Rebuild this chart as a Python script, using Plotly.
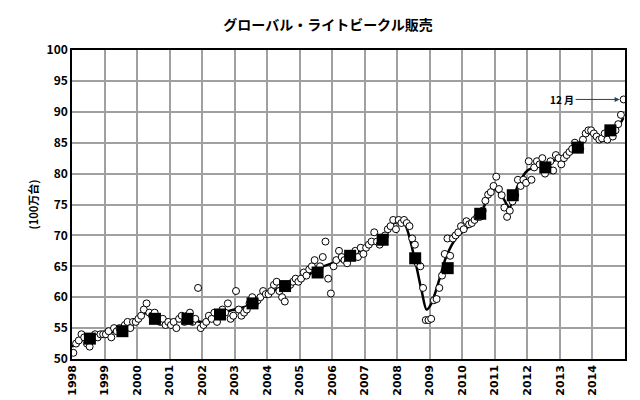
import numpy as np
import plotly.graph_objects as go

years = list(range(1998, 2015))

# monthly sales (million units), Jan..Dec per year
monthly = {
    1998: [51, 52.5, 53, 54, 53.5, 52.5, 52, 53.5, 54, 53.5, 54, 54],
    1999: [54, 54.5, 53.5, 55, 54.5, 55, 54.5, 55.5, 56, 55, 56, 56],
    2000: [56.5, 57, 58, 59, 57.5, 57, 57.5, 56.5, 56, 56.5, 55.5, 56],
    2001: [55.5, 56, 55, 56.5, 57, 56, 57, 57.5, 56, 56.5, 61.5, 55],
    2002: [55.5, 56, 57, 56.5, 57.5, 56, 57, 58, 57.5, 59, 56.5, 57],
    2003: [61, 58, 57, 57.5, 58, 59, 60, 59, 59.5, 60, 61, 60.5],
    2004: [60.5, 61, 62, 62.5, 61, 60, 59.3, 61.5, 62, 62.5, 63, 62.5],
    2005: [63, 64, 63.5, 64.5, 65, 66, 64, 65, 66.5, 69, 63, 60.6],
    2006: [65, 66, 67.5, 66.5, 66, 65.5, 66.5, 67, 67.5, 66.5, 68, 67],
    2007: [68, 68.5, 69, 70.5, 69, 68.5, 69, 70, 71, 71.5, 72.5, 71],
    2008: [72.5, 72, 72.5, 72, 71.5, 69.5, 68.5, 65.5, 65, 61.5, 56.3, 56.3],
    2009: [56.5, 59.5, 59.7, 61.5, 63.5, 67, 69.5, 66.7, 69.5, 70, 70.5, 71.5],
    2010: [71, 72.3, 71.8, 72, 72.5, 73, 73, 74, 75.6, 76.6, 77, 78],
    2011: [79.5, 77.5, 76.5, 74.5, 73, 74, 75.5, 76.5, 79, 78, 79, 78.5],
    2012: [82, 79, 81, 82, 81.5, 82.5, 80, 81, 82, 80.5, 83, 82.5],
    2013: [81.5, 82.5, 83, 83.5, 84, 85, 84.5, 84, 85.5, 86.5, 87, 87],
    2014: [86.5, 86, 85.5, 85.7, 86.5, 85.5, 86.5, 86, 87, 88, 89.5, 92],
}

# annual averages
annual = [53.3, 54.5, 56.5, 56.5, 57.2, 59, 61.8, 64, 66.7, 69.3,
          66.3, 64.7, 73.5, 76.5, 81, 84.2, 87]

# trend line
trend_x = [1998.0, 1998.5, 1999.0, 1999.5, 2000.0, 2000.3, 2000.7, 2001.0, 2001.5, 2002.0,
           2002.5, 2003.0, 2003.5, 2004.0, 2004.5, 2005.0, 2005.5, 2006.0, 2006.5, 2007.0,
           2007.5, 2007.9, 2008.2, 2008.5, 2008.75, 2008.9, 2009.05, 2009.3, 2009.5, 2009.8,
           2010.2, 2010.6, 2010.95, 2011.2, 2011.45, 2011.7, 2012.0, 2012.5, 2013.0, 2013.5,
           2013.9, 2014.3, 2014.7, 2014.95]
trend_y = [52, 53.5, 54, 54.8, 56.5, 57.5, 56.5, 56.2, 56.7, 56,
           57.3, 58, 58.8, 60.5, 61.8, 62.5, 64.5, 65.5, 66.5, 68,
           69.5, 72, 72, 67, 61, 58, 59, 63, 66.5, 69.5,
           71.5, 74, 77.5, 76.5, 74.5, 78, 80.5, 81.5, 82.5, 84.5,
           86.5, 86, 87, 89]

mx, my = [], []
for y in years:
    for m, v in enumerate(monthly[y]):
        mx.append(y + (m + 0.5) / 12)
        my.append(v)

fig = go.Figure()
fig.add_trace(go.Scatter(x=trend_x, y=trend_y, mode='lines',
                         line=dict(color='black', width=2.5, shape='spline', smoothing=0.8)))
fig.add_trace(go.Scatter(x=mx, y=my, mode='markers',
                         marker=dict(symbol='circle', size=7, color='white',
                                     line=dict(color='black', width=1))))
fig.add_trace(go.Scatter(x=[y + 0.55 for y in years], y=annual, mode='markers',
                         marker=dict(symbol='square', size=12, color='black')))

fig.add_annotation(x=mx[-1], y=my[-1], ax=-48, ay=0, text='<b>12 月</b>',
                   showarrow=True, arrowhead=2, arrowsize=1, arrowwidth=1,
                   xanchor='right', font=dict(size=10, color='black'), standoff=4)

fig.update_layout(
    width=640, height=400, showlegend=False,
    paper_bgcolor='white', plot_bgcolor='white',
    margin=dict(l=64, r=23, t=42, b=46),
    font=dict(family='Noto Sans CJK JP', color='black'),
    title=dict(text='<b>グローバル・ライトビークル販売</b>', x=0.5, y=0.97,
               xanchor='center', font=dict(size=14)),
    xaxis=dict(range=[1998, 2015], tickvals=years, ticktext=[str(y) for y in years],
               tickangle=-90, showgrid=True, gridcolor='#a0a0a0', gridwidth=1.5,
               showline=True, linecolor='black', linewidth=1.5, mirror=True,
               tickfont=dict(size=11, family='DejaVu Sans', weight='bold'), zeroline=False),
    yaxis=dict(range=[50, 100], dtick=5, showgrid=True, gridcolor='#a0a0a0', gridwidth=1.5,
               showline=True, linecolor='black', linewidth=1.5, mirror=True,
               tickfont=dict(size=12, weight='bold'), zeroline=False,
               title=dict(text='<b>(100万台)</b>', font=dict(size=11), standoff=6)),
)

fig.write_html("out.html")
